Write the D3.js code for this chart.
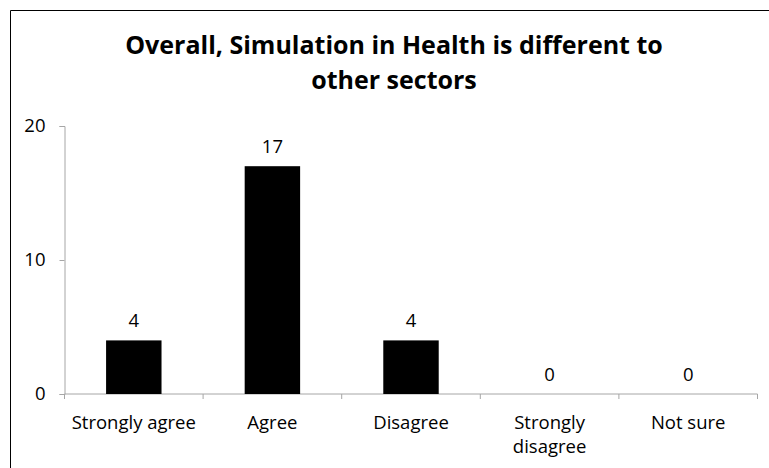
<!DOCTYPE html>
<html>
<head>
<meta charset="utf-8">
<script src="https://cdn.jsdelivr.net/npm/d3@7"></script>
<style>
  html, body { margin: 0; padding: 0; background: #fff; }
  svg { display: block; }
  text { font-family: "Open Sans", "Noto Sans", sans-serif; fill: #000; font-variant-ligatures: none; }
</style>
</head>
<body>
<svg id="chart" width="769" height="468"></svg>
<script>
// Survey responses
const categories = ["Strongly agree", "Agree", "Disagree", "Strongly disagree", "Not sure"];
const counts = [4, 17, 4, 0, 0];
const yTicks = [0, 10, 20];
const titleLines = ["Overall, Simulation in Health is different to", "other sectors"];

const svg = d3.select("#chart");
const W = 769, H = 468;
const margin = { left: 64.5, right: 11.5, top: 126, bottom: 74 };
const labelFont = "Open Sans, sans-serif";
const labelSize = 18.5;

// Outer frame: top and left edges
svg.append("path")
  .attr("d", `M10.5,${H} V10.5 H${W}`)
  .attr("fill", "none")
  .attr("stroke", "#000")
  .attr("stroke-width", 1);

const x = d3.scaleBand()
  .domain(categories)
  .range([margin.left, W - margin.right])
  .padding(0);

const y = d3.scaleLinear()
  .domain([0, 20])
  .range([H - margin.bottom, margin.top]);

// Title
svg.append("g").selectAll("text")
  .data(titleLines)
  .join("text")
  .attr("x", 394)
  .attr("y", (d, i) => 54 + i * 35)
  .attr("text-anchor", "middle")
  .attr("font-size", 25)
  .attr("font-weight", "bold")
  .text(d => d);

// Y axis
const yAxis = svg.append("g")
  .attr("transform", `translate(${margin.left},0)`)
  .call(d3.axisLeft(y).tickValues(yTicks).tickSize(5).tickPadding(14));
yAxis.selectAll("path, line").attr("stroke", "#a6a6a6");
yAxis.selectAll("text")
  .attr("font-size", labelSize)
  .attr("font-family", labelFont)
  .attr("fill", "#000");

// X axis with ticks at band boundaries
const xAxisG = svg.append("g")
  .attr("transform", `translate(0,${y(0)})`);
xAxisG.append("line")
  .attr("x1", margin.left).attr("x2", W - margin.right)
  .attr("stroke", "#a6a6a6");
xAxisG.selectAll("line.tick")
  .data(categories.map(c => x(c)).concat([x(categories[categories.length - 1]) + x.bandwidth()]))
  .join("line")
  .attr("class", "tick")
  .attr("x1", d => d).attr("x2", d => d)
  .attr("y1", 0).attr("y2", 5)
  .attr("stroke", "#a6a6a6");

// Category labels, wrapped onto two lines when needed
const wrapped = { "Strongly disagree": ["Strongly", "disagree"] };
xAxisG.selectAll("text.cat")
  .data(categories)
  .join("text")
  .attr("class", "cat")
  .attr("text-anchor", "middle")
  .attr("font-size", labelSize)
  .each(function(d) {
    const lines = wrapped[d] || [d];
    d3.select(this).selectAll("tspan")
      .data(lines)
      .join("tspan")
      .attr("x", x(d) + x.bandwidth() / 2)
      .attr("y", (l, i) => 35 + i * 24)
      .text(l => l);
  });

// Bars
const barW = x.bandwidth() * 0.4;
svg.append("g").selectAll("rect")
  .data(categories.map((c, i) => ({ c, v: counts[i] })))
  .join("rect")
  .attr("x", d => x(d.c) + (x.bandwidth() - barW) / 2)
  .attr("width", barW)
  .attr("y", d => y(d.v))
  .attr("height", d => y(0) - y(d.v))
  .attr("fill", "#000");

// Value labels
svg.append("g").selectAll("text")
  .data(categories.map((c, i) => ({ c, v: counts[i] })))
  .join("text")
  .attr("x", d => x(d.c) + x.bandwidth() / 2)
  .attr("y", d => y(d.v) - 13)
  .attr("text-anchor", "middle")
  .attr("font-size", labelSize)
  .text(d => d.v);
</script>
</body>
</html>
